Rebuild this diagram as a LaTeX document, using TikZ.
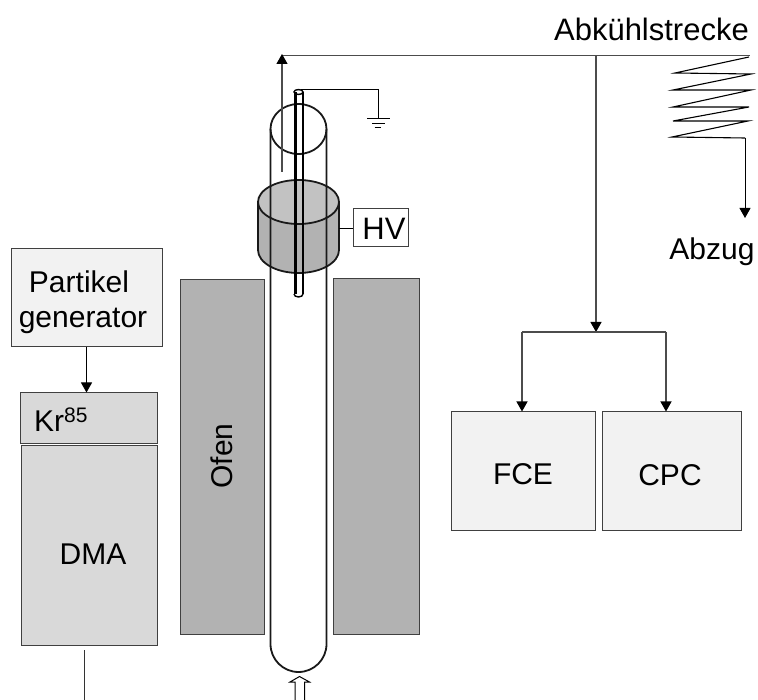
\documentclass[tikz,border=0pt]{standalone}
\usepackage{fontspec}
\setmainfont{Liberation Sans}
\usetikzlibrary{arrows.meta}
\definecolor{ofengray}{gray}{0.70}
\definecolor{dmagray}{gray}{0.85}
\definecolor{boxgray}{gray}{0.95}
\tikzset{
  box/.style={draw=black!75, line width=1pt, inner sep=0pt},
  lbl/.style={inner sep=0pt, font=\fontsize{30}{36}\selectfont},
  flow/.style={line width=1pt, -{Triangle[length=10pt,width=11pt]}},
  pipe/.style={line width=1.2pt, draw=black!70},
  wall/.style={line width=1.8pt, draw=black!90}
}
\begin{document}
\begin{tikzpicture}[x=1pt, y=-1pt]
   \useasboundingbox (0, 0) rectangle (758, 700);
   % Ofen
   \node[box, fill=ofengray, minimum width=84pt, minimum height=354pt] (ofenL) at (222, 457) {};
   \node[box, fill=ofengray, minimum width=86pt, minimum height=355pt] (ofenR) at (376, 456.5) {};
   \node[lbl, rotate=90] (ofen) at (222, 456) {Ofen};
   % HV cylinder
   \filldraw[wall, fill=ofengray] (258, 202) -- (258, 250) arc (180:0:40.5 and 23) -- (339, 202) -- cycle;
   \filldraw[wall, fill=black!24] (298.5, 202) ellipse (40.5 and 22);
   \node[box, fill=white, minimum width=55pt, minimum height=38pt] (hv) at (380.5, 228) {};
   \node[lbl, font=\fontsize{31}{36}\selectfont] (hvlabel) at (384, 229) {HV};
   \coordinate (hvcyl) at (339, 228);
   \draw[line width=0.8pt] (hvcyl) -- (hv.west);
   % tube
   \draw[wall] (270.5, 129) -- (270.5, 644) arc (180:0:28 and 28) -- (326.5, 129);
   \draw[wall] (298.5, 129) ellipse (28 and 25);
   % rod
   \draw[line width=3pt] (295, 92) -- (295, 294);
   \draw[line width=1.4pt] (303, 92) -- (303, 294);
   \draw[line width=1.4pt] (294, 294) arc (180:0:4.5 and 3);
   \draw[line width=1.4pt] (298.5, 92) ellipse (4.5 and 2.5);
   % ground
   \coordinate (rodtop) at (301, 89.5);
   \coordinate (gnd) at (378, 118.5);
   \draw[line width=0.9pt] (rodtop) -| (gnd);
   \draw[line width=1pt] (367, 119) -- (390, 119) (372, 124) -- (385, 124) (374.5, 128) -- (381, 128);
   % gas out
   \coordinate (tubeout) at (282, 172);
   \coordinate (corner) at (282, 55.5);
   \coordinate (coilin) at (750, 55.5);
   \coordinate (split) at (596, 55.5);
   \coordinate (fork) at (596, 332);
   \draw[pipe, line width=1pt] (corner) -- (coilin);
   \draw[pipe, -{Triangle[length=10pt,width=11pt,color=black]}] (tubeout) -- ([yshift=1.5pt]corner);
   % cooling coil
   \draw[line width=1.1pt] (coilin) ++(-1, 1.5) -- (675, 73) -- (751, 74) -- (673, 90) -- (751, 90)
     -- (673, 107) -- (749, 107) -- (673, 121) -- (748, 121) -- (672, 137) -- (745, 138) coordinate (coilout);
   \node[lbl] (abzug) at (712, 252) {Abzug};
   \draw[flow] (coilout) -- (745, 218);
   \node[lbl, anchor=east, font=\fontsize{31}{36}\selectfont] (kuehl) at (749, 29) {Abkühlstrecke};
   % instruments
   \node[box, fill=boxgray, minimum width=144pt, minimum height=118pt] (fce) at (523, 471) {};
   \node[lbl] (fcelabel) at (523, 474) {FCE};
   \node[box, fill=boxgray, minimum width=139pt, minimum height=118pt] (cpc) at (671.5, 471) {};
   \node[lbl] (cpclabel) at (670, 475) {CPC};
   \draw[pipe, -{Triangle[length=10pt,width=11pt,color=black]}] (split) -- (fork);
   \draw[pipe] (522, 332) -- (666, 332);
   \draw[pipe, -{Triangle[length=10pt,width=11pt,color=black]}] (522, 332) -- (fce.north -| 522, 0);
   \draw[pipe, -{Triangle[length=10pt,width=11pt,color=black]}] (666, 332) -- (cpc.north -| 666, 0);
   % left column
   \node[box, fill=boxgray, minimum width=151pt, minimum height=98pt] (gen) at (86.5, 298) {};
   \node[lbl, align=center, font=\fontsize{30}{35}\selectfont] (genlabel) at (83, 302) {Partikel\hspace*{8pt}\\generator};
   \node[box, fill=dmagray, minimum width=137pt, minimum height=51pt] (kr) at (88.5, 418.5) {};
   \node[lbl, anchor=west] (krlabel) at (34, 420) {Kr\textsuperscript{85}};
   \node[box, fill=dmagray, minimum width=136pt, minimum height=199pt] (dma) at (89, 545.5) {};
   \node[lbl] (dmalabel) at (93, 554) {DMA};
   \draw[flow] (gen.south) -- (gen.south |- kr.north);
   \coordinate (dmaout) at (84, 650);
   \coordinate (dmaend) at (84, 700);
   \draw[line width=1pt, black!80] (dmaout) -- (dmaend);
   % gas in
   \draw[line width=1pt, fill=white] (295, 700) -- (295, 682) -- (290, 682) -- (299.5, 676.5) -- (309.5, 682) -- (304.5, 682) -- (304.5, 700);
\end{tikzpicture}
\end{document}
